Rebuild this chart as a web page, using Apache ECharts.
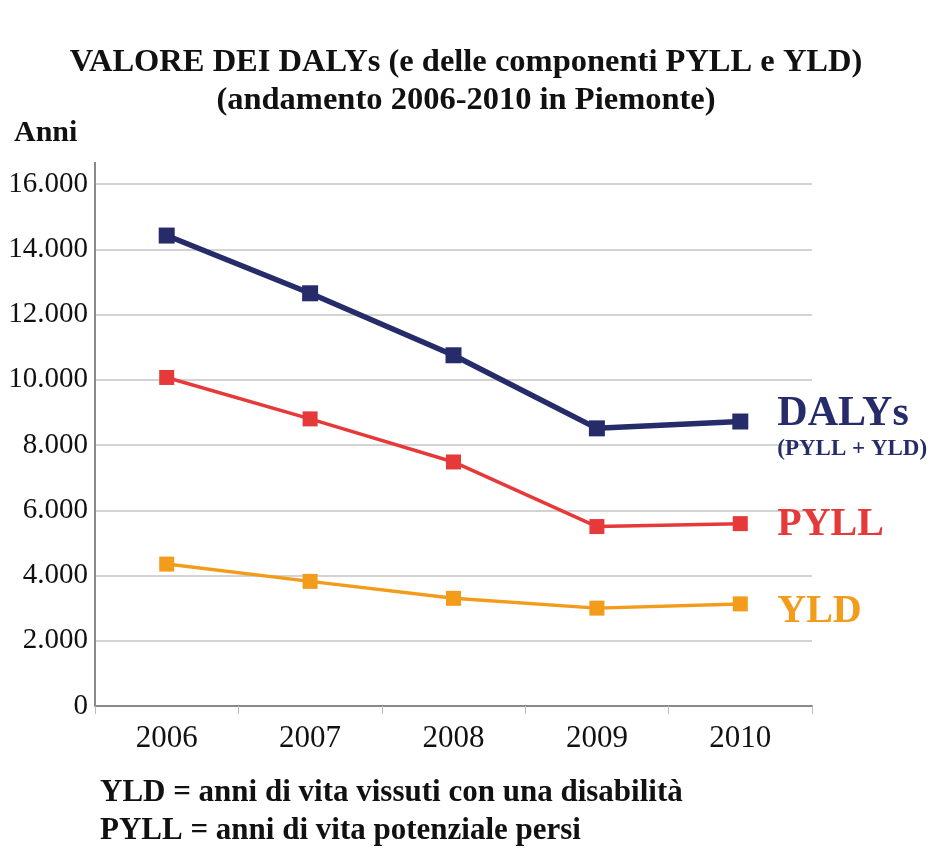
<!DOCTYPE html>
<html>
<head>
<meta charset="utf-8">
<script src="https://cdn.jsdelivr.net/npm/echarts@6/dist/echarts.min.js"></script>
<style>
  html, body { margin: 0; padding: 0; background: #fff; }
  #chart { width: 932px; height: 850px; }
</style>
</head>
<body>
<div id="chart"></div>
<script>
var years = ['2006', '2007', '2008', '2009', '2010'];
var dalys = [14420, 12650, 10750, 8510, 8720];
var pyll = [10070, 8800, 7480, 5500, 5590];
var yld = [4350, 3820, 3300, 3000, 3130];
var yTicks = [0, 2000, 4000, 6000, 8000, 10000, 12000, 14000, 16000];

var FONT = '"Liberation Serif", "DejaVu Serif", serif';
var NAVY = '#262c6a', RED = '#e63a3a', ORANGE = '#f39b1b';

function fmt_it(v)
{
    return String(v).replace(/\B(?=(\d{3})+(?!\d))/g, '.');
}

var chart = document.getElementById('chart');
var myChart = echarts.init(chart);

var option = {
    backgroundColor: '#fff',
    animation: false,
    title: [
        {
            text: 'VALORE DEI DALYs (e delle componenti PYLL e YLD)\n(andamento 2006-2010 in Piemonte)',
            left: 'center', top: 39,
            textStyle: { fontFamily: FONT, fontWeight: 'bold', fontSize: 32.5, lineHeight: 38, color: '#111' }
        },
        {
            text: 'Anni', left: 9, top: 113,
            textStyle: { fontFamily: FONT, fontWeight: 'bold', fontSize: 30, color: '#111' }
        },
        {
            text: 'YLD = anni di vita vissuti con una disabilità\nPYLL = anni di vita potenziale persi',
            left: 95, top: 769,
            textStyle: { fontFamily: FONT, fontWeight: 'bold', fontSize: 31, lineHeight: 38, color: '#111' }
        }
    ],
    grid: { left: 95, right: 120, top: 184, bottom: 144 },
    xAxis: {
        type: 'category',
        data: years,
        boundaryGap: true,
        axisLine: { lineStyle: { color: '#8a8a8a', width: 2 } },
        axisTick: { show: true, alignWithLabel: false, length: 8, lineStyle: { color: '#bbb' } },
        axisLabel: { fontFamily: FONT, fontSize: 31, color: '#111', margin: 17 }
    },
    yAxis: {
        type: 'value',
        min: yTicks[0],
        max: yTicks[yTicks.length - 1],
        interval: 2000,
        axisLine: { show: true, lineStyle: { color: '#8a8a8a', width: 2 } },
        axisTick: { show: false },
        splitLine: { lineStyle: { color: '#c4c4c4', width: 1.5 } },
        axisLabel: { fontFamily: FONT, fontSize: 29, color: '#111', margin: 7, formatter: fmt_it }
    },
    graphic: [
        { type: 'line', shape: { x1: 95, y1: 162, x2: 95, y2: 184 }, style: { stroke: '#8a8a8a', lineWidth: 2 } }
    ],
    series: [
        {
            name: 'DALYs', type: 'line', data: dalys,
            symbol: 'rect', symbolSize: 16,
            lineStyle: { color: NAVY, width: 5.5 },
            itemStyle: { color: NAVY },
            endLabel: {
                show: true, distance: 37, offset: [0, 8],
                formatter: '{a|DALYs}\n{b|(PYLL + YLD)}',
                rich: {
                    a: { fontFamily: FONT, fontWeight: 'bold', fontSize: 42, color: NAVY, lineHeight: 40 },
                    b: { fontFamily: FONT, fontWeight: 'bold', fontSize: 23, color: NAVY, lineHeight: 30 }
                }
            }
        },
        {
            name: 'PYLL', type: 'line', data: pyll,
            symbol: 'rect', symbolSize: 15,
            lineStyle: { color: RED, width: 3.5 },
            itemStyle: { color: RED },
            endLabel: {
                show: true, distance: 37, offset: [0, 1], formatter: 'PYLL',
                fontFamily: FONT, fontWeight: 'bold', fontSize: 40, color: RED
            }
        },
        {
            name: 'YLD', type: 'line', data: yld,
            symbol: 'rect', symbolSize: 15,
            lineStyle: { color: ORANGE, width: 3.5 },
            itemStyle: { color: ORANGE },
            endLabel: {
                show: true, distance: 37, offset: [0, 8], formatter: 'YLD',
                fontFamily: FONT, fontWeight: 'bold', fontSize: 40, color: ORANGE
            }
        }
    ]
};

myChart.setOption(option);
</script>
</body>
</html>
